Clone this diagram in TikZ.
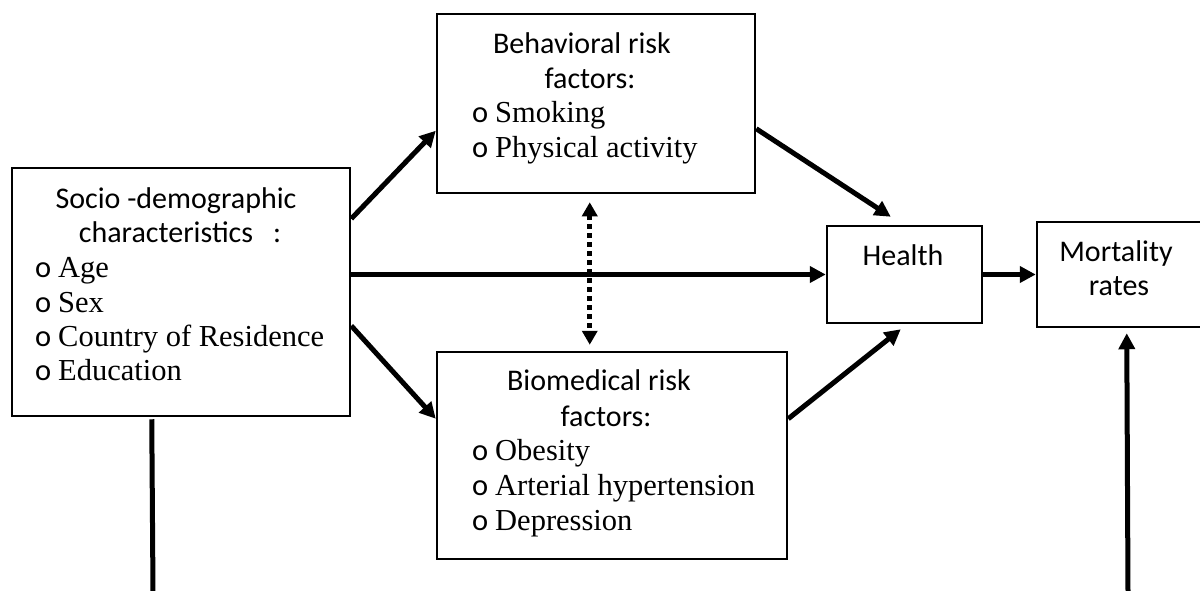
\documentclass[tikz,border=0pt]{standalone}
\usepackage{fontspec}
\setmainfont{Liberation Serif}
\newfontfamily\hdfont{Carlito}
\usetikzlibrary{arrows.meta,calc}
\newcommand\bitem[1]{\makebox[23pt][l]{\hdfont o}#1}
\begin{document}
\begin{tikzpicture}[x=1pt,y=-1pt,
  box/.style={draw,line width=2.5pt,inner sep=0pt,rectangle},
  hd/.style={font=\hdfont\fontsize{30}{34}\selectfont,anchor=base,inner sep=0pt},
  itm/.style={font=\fontsize{30.5}{34}\selectfont,anchor=base west,inner sep=0pt},
  arr/.style={line width=5pt,-{Triangle[length=16pt,width=16pt]}},
  plain/.style={line width=5pt},
  dotarr/.style={line width=5pt,dash pattern=on 5pt off 4pt,{Triangle[length=14pt,width=15pt]}-{Triangle[length=14pt,width=15pt]}}
]
\useasboundingbox (0,0) rectangle (1200,590);
\fill[white] (0,0) rectangle (1200,590);
\clip (0,0) rectangle (1200,590);

% boxes
\node[box,minimum width=338pt,minimum height=248pt] (soc) at (181,292) {};
\node[box,minimum width=318pt,minimum height=179pt] (beh) at (596,103.5) {};
\node[box,minimum width=350pt,minimum height=207pt] (bio) at (612,455.5) {};
\node[box,minimum width=155pt,minimum height=97pt] (hea) at (904.5,274.5) {};
\node[box,minimum width=178pt,minimum height=105pt] (mor) at (1126,274.5) {};

% texts: socio-demographic
\node[hd] (soc1) at (176,208) {Socio -demographic};
\node[hd] (soc2) at (180,242) {characteristics\hspace{20pt}:};
\node[itm] (soc3) at (35,277) {\bitem{Age}};
\node[itm] (soc4) at (35,312) {\bitem{Sex}};
\node[itm] (soc5) at (35,346) {\bitem{Country of Residence}};
\node[itm] (soc6) at (35,380) {\bitem{Education}};

% behavioral
\node[hd] (beh1) at (582,53) {Behavioral risk};
\node[hd] (beh2) at (590,88) {factors:};
\node[itm] (beh3) at (472,122) {\bitem{Smoking}};
\node[itm] (beh4) at (472,157) {\bitem{Physical activity}};

% biomedical
\node[hd] (bio1) at (599,390) {Biomedical risk};
\node[hd] (bio2) at (606,426) {factors:};
\node[itm] (bio3) at (472,460) {\bitem{Obesity}};
\node[itm] (bio4) at (472,495) {\bitem{Arterial hypertension}};
\node[itm] (bio5) at (472,530) {\bitem{Depression}};

% health, mortality
\node[hd] (hea1) at (903,265) {Health};
\node[hd] (mor1) at (1116,261) {Mortality};
\node[hd] (mor2) at (1119,295) {rates};

% bottom free ends
\coordinate (bl) at (153,592);
\coordinate (br) at (1128,592);

% connectors
\draw[arr] ($(soc.north east)+(0,52)$) -- ($(beh.north west)+(0,118)$);
\draw[arr] (soc.east |- hea.west) -- (hea.west);
\draw[arr] ($(soc.north east)+(0,159)$) -- ($(bio.north west)+(0,68)$);
\draw[arr] ($(beh.north east)+(0,116)$) -- ($(hea.north west)+(65,-8)$);
\draw[arr] ($(bio.north east)+(0,68)$) -- ($(hea.south west)+(75,5)$);
\draw[arr] (hea.east) -- (mor.west |- hea.east);
\draw[dotarr] ($(beh.south west)+(154,8)$) -- ($(bio.north west)+(154,-6)$);
\draw[plain] ($(soc.south west)+(141,2)$) -- (bl);
\draw[arr] (br) -- ($(mor.south west)+(91,5)$);
\end{tikzpicture}
\end{document}
